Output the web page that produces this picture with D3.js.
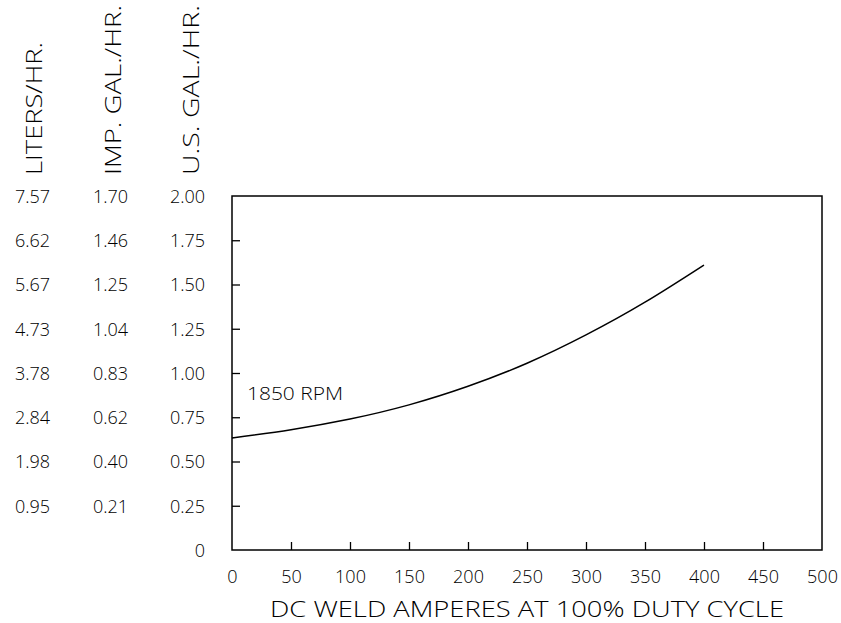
<!DOCTYPE html>
<html><head><meta charset="utf-8">
<script src="https://cdn.jsdelivr.net/npm/d3@7"></script>
<style>
html,body{margin:0;padding:0;background:#fff;}
svg{display:block;}
text{font-family:"Open Sans","Liberation Sans",sans-serif;font-weight:300;fill:#000;}
</style></head>
<body>
<svg id="chart" width="841" height="623"></svg>
<script>
// ---- data ----
const amps = [0, 50, 100, 150, 200, 250, 300, 350, 400];
const usGalPerHr = [0.633, 0.68, 0.74, 0.82, 0.925, 1.055, 1.215, 1.40, 1.61];
const xTicks = [0, 50, 100, 150, 200, 250, 300, 350, 400, 450, 500];
const yTicks = [0, 0.25, 0.5, 0.75, 1.0, 1.25, 1.5, 1.75, 2.0];
const usLabels = ["0", "0.25", "0.50", "0.75", "1.00", "1.25", "1.50", "1.75", "2.00"];
const impLabels = ["", "0.21", "0.40", "0.62", "0.83", "1.04", "1.25", "1.46", "1.70"];
const literLabels = ["", "0.95", "1.98", "2.84", "3.78", "4.73", "5.67", "6.62", "7.57"];
const headers = ["LITERS/HR.", "IMP. GAL./HR.", "U.S. GAL./HR."];
const xTitle = "DC WELD AMPERES AT 100% DUTY CYCLE";
const curveLabel = "1850 RPM";

// ---- layout ----
const svg = d3.select("#chart");
const L = 232, R = 822, T = 196, B = 550;
const x = d3.scaleLinear().domain([0, 500]).range([L, R]);
const y = d3.scaleLinear().domain([0, 2]).range([B, T]);

// frame
svg.append("rect").attr("x", L).attr("y", T).attr("width", R - L).attr("height", B - T)
  .attr("fill", "none").attr("stroke", "#000").attr("stroke-width", 1.5);

// bottom axis (inward ticks)
const xAxis = svg.append("g").attr("transform", `translate(0,${B})`)
  .call(d3.axisBottom(x).tickValues(xTicks).tickSizeInner(-8).tickSizeOuter(0).tickPadding(20)
    .tickFormat(d => String(d)));
xAxis.select(".domain").remove();
xAxis.selectAll(".tick line").attr("stroke", "#000").attr("stroke-width", 1.3)
  .filter(d => d === 0 || d === 500).remove();
xAxis.selectAll(".tick text").attr("font-size", 18).attr("font-family", null).attr("fill", "#000");

// left axis (inward ticks, no labels)
const yAxis = svg.append("g").attr("transform", `translate(${L},0)`)
  .call(d3.axisLeft(y).tickValues(yTicks).tickSizeInner(-8).tickSizeOuter(0).tickFormat(""));
yAxis.select(".domain").remove();
yAxis.selectAll(".tick line").attr("stroke", "#000").attr("stroke-width", 1.3)
  .filter(d => d === 0 || d === 2).remove();

// three label columns
const cols = [
  {labels: literLabels, xr: 50},
  {labels: impLabels, xr: 128},
  {labels: usLabels, xr: 205}
];
cols.forEach(c => {
  svg.append("g").selectAll("text").data(yTicks).join("text")
    .attr("x", c.xr).attr("y", d => y(d))
    .attr("dy", "0.38em")
    .attr("text-anchor", "end").attr("font-size", 18)
    .text((d, i) => c.labels[i]);
});

// headers (rotated)
const hdrX = [42, 121, 199];
const hdrLen = [133, 170, 170];
headers.forEach((h, i) => {
  svg.append("text")
    .attr("transform", `translate(${hdrX[i]},175) rotate(-90)`)
    .attr("font-size", 22)
    .attr("textLength", hdrLen[i]).attr("lengthAdjust", "spacingAndGlyphs")
    .text(h);
});

// x title
svg.append("text").attr("x", (L + R) / 2).attr("y", 617).attr("text-anchor", "middle")
  .attr("font-size", 22).attr("textLength", 514).attr("lengthAdjust", "spacingAndGlyphs")
  .text(xTitle);

// curve
const line = d3.line().x((d, i) => x(amps[i])).y(d => y(d)).curve(d3.curveNatural);
svg.append("path").datum(usGalPerHr).attr("d", line)
  .attr("fill", "none").attr("stroke", "#000").attr("stroke-width", 1.5);

// curve label
svg.append("text").attr("x", 247).attr("y", 400).attr("font-size", 18)
  .attr("textLength", 96).attr("lengthAdjust", "spacingAndGlyphs")
  .text(curveLabel);
</script>
</body></html>
